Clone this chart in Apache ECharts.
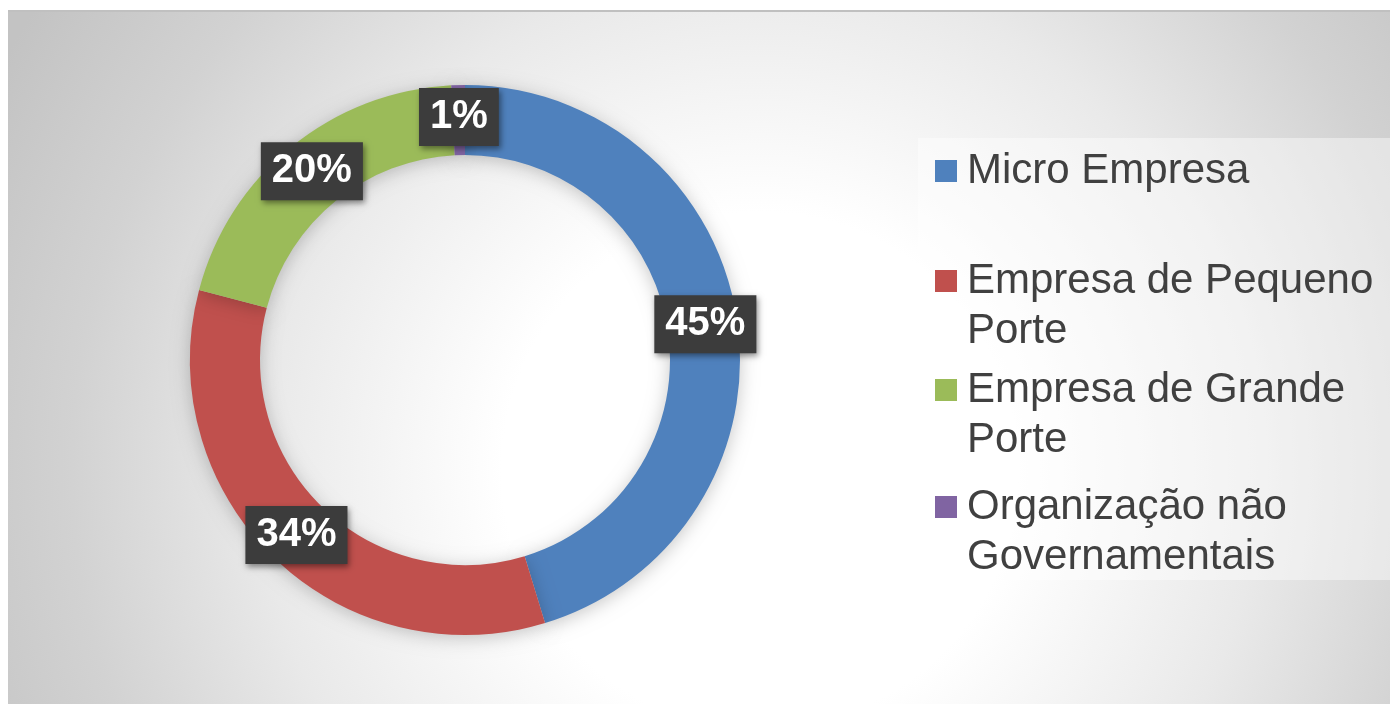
<!DOCTYPE html>
<html>
<head>
<meta charset="utf-8">
<title>Porte das empresas</title>
<script src="https://cdn.jsdelivr.net/npm/echarts@6/dist/echarts.min.js"></script>
<style>
    html, body { margin: 0; padding: 0; background: #fff; }
    #chart_porte { width: 1390px; height: 704px; }
</style>
</head>
<body>
<div id="chart_porte"></div>
<script>
// dados
var categorias = ["Micro Empresa", "Empresa de Pequeno Porte", "Empresa de Grande Porte", "Organização não Governamentais"];
var valores = [45.3, 33.8, 20.1, 0.8];
var cores = ["#4f81bd", "#c0504d", "#9bbb59", "#8064a2"];

var painel = {
    init: function(){
        painel.loadEcharts();
    },
    // legenda: uma por item, para acertar o espacamento
    montaLegenda: function(nome, top){
        return {
            data: [nome],
            left: 935,
            top: top,
            padding: 0,
            orient: "vertical",
            selectedMode: false,
            icon: "rect",
            itemWidth: 22,
            itemHeight: 22,
            formatter: function(n){
                // linha vazia no inicio: o quadrado fica na altura da primeira linha
                if (n.indexOf(" Porte") > 0 || n.indexOf(" Governamentais") > 0) {
                    return "\n" + n.replace(" Porte", "\nPorte").replace(" Governamentais", "\nGovernamentais");
                }
                return n;
            },
            textStyle: {
                fontFamily: "Liberation Sans, Arial",
                fontSize: 42,
                lineHeight: 50,
                color: "#404040",
                padding: [0, 0, 0, 5]
            }
        };
    },
    loadEcharts: function(){
        var myChart = echarts.init(document.getElementById("chart_porte"));
        var dados = categorias.map(function(c, i){
            return {name: c, value: valores[i], itemStyle: {color: cores[i]}};
        });
        var option = {
            animation: false,
            graphic: [
                {
                    type: "rect",
                    z: -10,
                    shape: {x: 8, y: 11, width: 1382, height: 693},
                    style: {
                        fill: {
                            type: "radial", x: 760, y: 470, r: 860, global: true,
                            colorStops: [
                                {offset: 0, color: "#ffffff"},
                                {offset: 0.3, color: "#ffffff"},
                                {offset: 0.58, color: "#e9e9e9"},
                                {offset: 0.8, color: "#d2d2d2"},
                                {offset: 1, color: "#c3c3c3"}
                            ]
                        }
                    }
                },
                {
                    type: "rect",
                    z: -9,
                    shape: {x: 8, y: 10, width: 1382, height: 2},
                    style: {fill: "#c0c0c0"}
                },
                {
                    // fundo da legenda
                    type: "rect",
                    z: -8,
                    shape: {x: 918, y: 138, width: 472, height: 442},
                    style: {fill: "rgba(255,255,255,0.42)"}
                }
            ],
            legend: [
                painel.montaLegenda(categorias[0], 146),
                painel.montaLegenda(categorias[1], 206),
                painel.montaLegenda(categorias[2], 315),
                painel.montaLegenda(categorias[3], 432)
            ],
            series: [
                {
                    type: "pie",
                    center: [465, 360],
                    radius: [205, 275],
                    startAngle: 90,
                    clockwise: true,
                    silent: true,
                    itemStyle: {
                        shadowBlur: 18,
                        shadowOffsetY: 3,
                        shadowColor: "rgba(0,0,0,0.22)"
                    },
                    label: {
                        show: true,
                        position: "inside",
                        formatter: function(p){ return Math.round(p.percent) + "%"; },
                        fontFamily: "Liberation Sans, Arial",
                        fontWeight: "bold",
                        fontSize: 40,
                        lineHeight: 40,
                        color: "#ffffff",
                        backgroundColor: "#3c3c3c",
                        padding: [9, 11, 9, 11],
                        shadowColor: "rgba(0,0,0,0.45)",
                        shadowBlur: 6,
                        shadowOffsetX: 2,
                        shadowOffsetY: 3
                    },
                    labelLine: {show: false},
                    data: dados
                }
            ]
        };
        myChart.setOption(option);
    }
};
painel.init();
</script>
</body>
</html>
